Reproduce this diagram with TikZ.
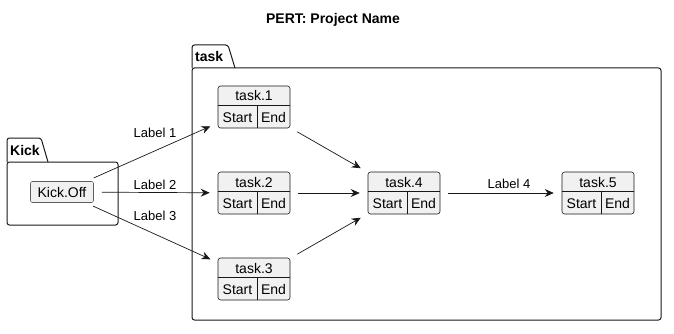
\documentclass[tikz,border=0pt]{standalone}
\usepackage{fontspec}
\setmainfont{Liberation Sans}
\usetikzlibrary{arrows.meta}
\definecolor{ln}{HTML}{181818}
\definecolor{bg}{HTML}{F1F1F1}
\tikzset{
  pkg/.style={draw=ln, line width=1pt, rounded corners=2.5pt},
  pkgname/.style={font=\fontsize{14}{16}\selectfont\bfseries, inner sep=0pt, anchor=base west},
  taskbox/.style={draw=ln, line width=0.6pt, fill=bg, rounded corners=2.5pt, minimum width=72pt, minimum height=42pt, inner sep=0pt},
  taskline/.style={draw=ln, line width=0.6pt},
  tasktext/.style={font=\fontsize{14}{16}\selectfont, inner sep=0pt, anchor=base},
  kobox/.style={draw=ln!70, line width=0.6pt, fill=bg, rounded corners=2pt, minimum width=63pt, minimum height=21pt, inner sep=0pt, font=\fontsize{14}{16}\selectfont},
  edge/.style={draw=ln, line width=0.7pt, -{Stealth[length=9pt,width=8pt,inset=3pt]}, shorten <=8pt, shorten >=8pt},
  elabel/.style={font=\fontsize{13}{15}\selectfont, inner sep=0pt},
}
\newcommand{\ptask}[4]{%
  \node[taskbox] (#1) at (#2+36,#3+21) {};
  \draw[taskline] (#2,#3+19) -- (#2+72,#3+19);
  \draw[taskline] (#2+39,#3+19) -- (#2+39,#3+42);
  \node[tasktext] (#1h) at (#2+36,#3+15) {#4};
  \node[tasktext] (#1s) at (#2+19.5,#3+36) {Start};
  \node[tasktext] (#1e) at (#2+55.5,#3+36) {End};
}
\begin{document}
\begin{tikzpicture}[x=1pt,y=-1pt]
\useasboundingbox (0,0) rectangle (674,334);
\node[font=\fontsize{14}{16}\selectfont\bfseries, inner sep=0pt] (title) at (333,20) {PERT: Project Name};
% Kick package
\draw[pkg] (7,162) -- (7,138) -- (41,138) [sharp corners] -- (48,162);
\node[pkg, minimum width=111pt, minimum height=63pt, inner sep=0pt] (kickpkg) at (62.5,193.5) {};
\node[pkgname] (kickname) at (10,155) {Kick};
% task package
\draw[pkg] (192,68) -- (192,45) -- (228,45) [sharp corners] -- (235,68);
\node[pkg, minimum width=469pt, minimum height=252pt, inner sep=0pt] (taskpkg) at (426.5,194) {};
\node[pkgname] (taskname) at (195,62) {task};
% nodes
\node[kobox] (ko) at (62,192) {Kick.Off};
\ptask{t1}{218}{86}{task.1}
\ptask{t2}{218}{172}{task.2}
\ptask{t3}{218}{258}{task.3}
\ptask{t4}{368}{172}{task.4}
\ptask{t5}{562}{172}{task.5}
% edges
\draw[edge] (ko) -- (t1);
\draw[edge] (ko) -- (t2);
\draw[edge] (ko) -- (t3);
\draw[edge] (t1) -- (t4);
\draw[edge] (t2) -- (t4);
\draw[edge] (t3) -- (t4);
\draw[edge] (t4) -- (t5);
\node[elabel] (l1) at (155,133) {Label 1};
\node[elabel] (l2) at (155,185) {Label 2};
\node[elabel] (l3) at (155,216) {Label 3};
\node[elabel] (l4) at (509,184) {Label 4};
\end{tikzpicture}
\end{document}
